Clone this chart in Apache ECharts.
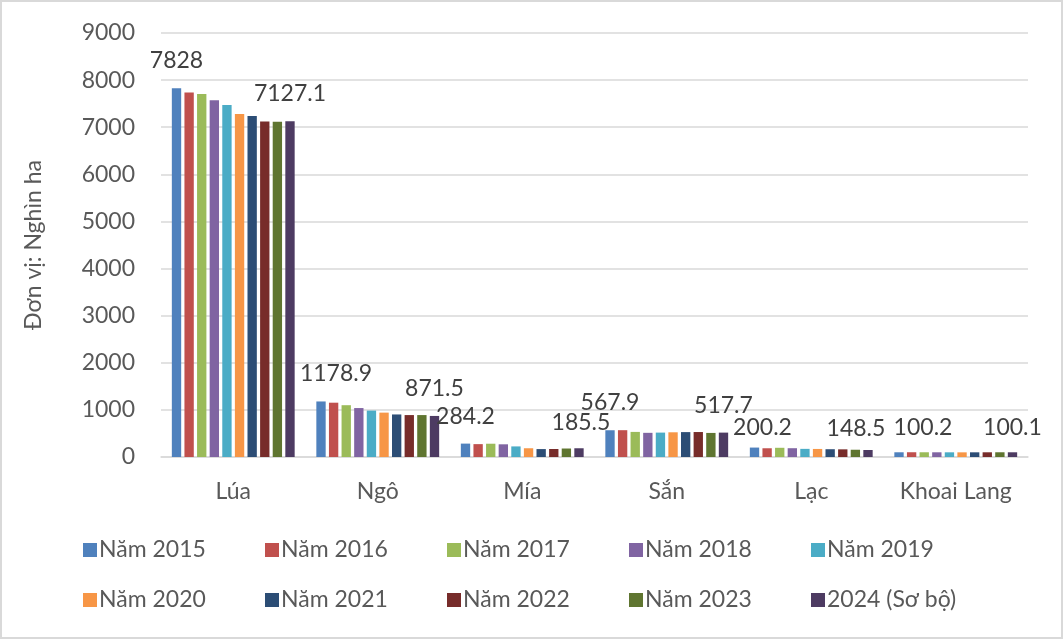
<!DOCTYPE html>
<html>
<head>
<meta charset="utf-8">
<script src="https://cdn.jsdelivr.net/npm/echarts@6/dist/echarts.min.js"></script>
<style>
html,body{margin:0;padding:0;background:#fff;}
#chart{width:1063px;height:639px;}
</style>
</head>
<body>
<div id="chart"></div>
<script>
// ---- data ----
const categories = ['Lúa', 'Ngô', 'Mía', 'Sắn', 'Lạc', 'Khoai Lang'];
const seriesNames = ['Năm 2015', 'Năm 2016', 'Năm 2017', 'Năm 2018', 'Năm 2019',
                     'Năm 2020', 'Năm 2021', 'Năm 2022', 'Năm 2023', '2024 (Sơ bộ)'];
// values per crop, one entry per year (2015 .. 2024)
const lua       = [7828, 7737.1, 7705.2, 7570.9, 7470.1, 7278.9, 7238.9, 7120.0, 7118.6, 7127.1];
const ngo       = [1178.9, 1152.7, 1099.5, 1039.0, 985.0, 942.0, 903.0, 890.0, 890.0, 871.5];
const mia       = [284.2, 273.2, 281.9, 269.4, 224.7, 185.7, 168.0, 170.0, 180.2, 185.5];
const san       = [567.9, 569.2, 532.5, 513.0, 518.0, 524.5, 528.5, 530.0, 511.0, 517.7];
const lac       = [200.2, 185.6, 195.6, 186.7, 172.8, 170.9, 165.1, 162.6, 154.1, 148.5];
const khoaiLang = [100.2, 101.0, 100.5, 100.0, 99.5, 99.0, 99.5, 100.0, 100.5, 100.1];
const yTicks = [0, 1000, 2000, 3000, 4000, 5000, 6000, 7000, 8000, 9000];
const labeledSeries = [0, 9];

// ---- styling ----
const colors = ['#4F81BD', '#C0504D', '#9BBB59', '#8064A2', '#4BACC6',
                '#F79646', '#2C4D75', '#772C2A', '#5F7530', '#4D3B62'];
const labelShift = {
  '1-0': [15, 0], '2-9': [2, 2], '4-0': [8, 8], '4-9': [-12, 6],
  '5-0': [24, 3], '5-9': [0, 3]
};
const FONT = 'Lato, "Noto Sans", sans-serif';
const TXT = '#595959';
const FS = 23;

const byCrop = [lua, ngo, mia, san, lac, khoaiLang];

const series = seriesNames.map((name, s) => ({
  name,
  type: 'bar',
  barGap: '35%',
  barCategoryGap: '15%',
  itemStyle: { color: colors[s] },
  data: categories.map((c, ci) => {
    const item = { value: byCrop[ci][s] };
    if (labeledSeries.includes(s)) {
      item.label = {
        show: true, position: 'top', distance: 16,
        fontFamily: FONT, fontSize: FS, color: '#404040',
        offset: labelShift[ci + '-' + s] || [0, 0]
      };
    }
    return item;
  })
}));

const chart = echarts.init(document.getElementById('chart'));
chart.setOption({
  animation: false,
  color: colors,
  grid: { left: 161, right: 35, top: 33, bottom: 182, containLabel: false },
  graphic: [{
    type: 'rect', shape: { x: 1, y: 1, width: 1061, height: 637 },
    style: { fill: 'none', stroke: '#d9d9d9', lineWidth: 2 }, z: 100
  }],
  legend: {
    left: 78, top: 525, width: 940,
    itemWidth: 14, itemHeight: 14, itemGap: 10,
    icon: 'rect',
    textStyle: { fontFamily: FONT, fontSize: FS, color: TXT, width: 156, lineHeight: 40, padding: [0, 0, 0, -3] },
    data: seriesNames
  },
  xAxis: {
    type: 'category',
    data: categories,
    axisLine: { lineStyle: { color: '#d9d9d9', width: 1.5 } },
    axisTick: { show: false },
    axisLabel: { interval: 0, hideOverlap: false, fontFamily: FONT, fontSize: FS, color: TXT, margin: 23 }
  },
  yAxis: {
    type: 'value',
    min: yTicks[0], max: yTicks[yTicks.length - 1], interval: yTicks[1] - yTicks[0],
    name: 'Đơn vị: Nghìn ha',
    nameLocation: 'middle', nameGap: 116,
    nameTextStyle: { fontFamily: FONT, fontSize: FS, color: TXT },
    axisLine: { show: false },
    axisTick: { show: false },
    splitLine: { lineStyle: { color: '#d9d9d9', width: 1.5 } },
    axisLabel: { fontFamily: FONT, fontSize: FS, color: TXT, margin: 26, formatter: v => String(v) }
  },
  series
});
</script>
</body>
</html>
